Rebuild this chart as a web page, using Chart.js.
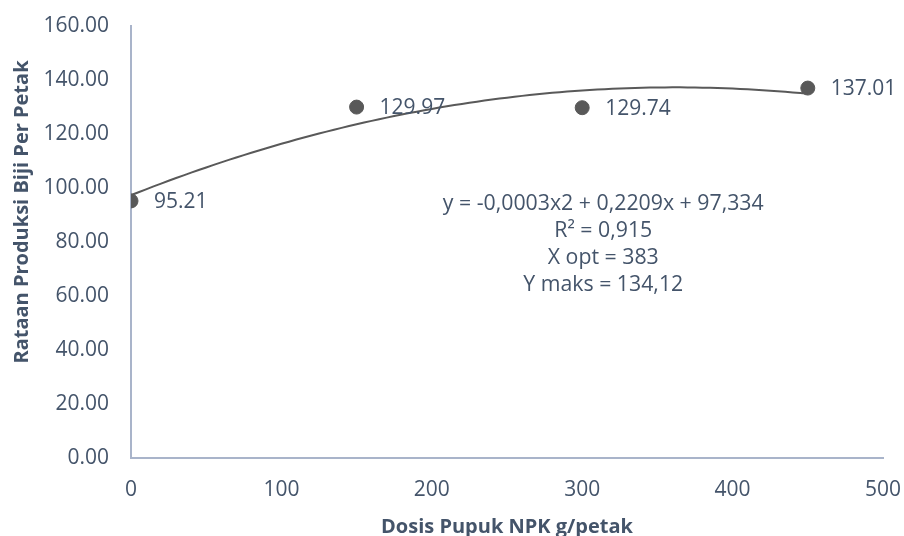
<!DOCTYPE html>
<html>
<head>
<meta charset="utf-8">
<style>
  html, body { margin: 0; padding: 0; background: #fff; }
  #wrap { width: 904px; height: 536px; }
</style>
<script src="https://cdn.jsdelivr.net/npm/chart.js@4/dist/chart.umd.min.js"></script>
</head>
<body>
<div id="wrap"><canvas id="c" width="904" height="536"></canvas></div>
<script>
// NPK dose (g/petak) and mean seed yield per plot
const doses = [0, 150, 300, 450];
const yields = [95.21, 129.97, 129.74, 137.01];
const yTicks = [0, 20, 40, 60, 80, 100, 120, 140, 160];
const xTicks = [0, 100, 200, 300, 400, 500];
const equationLines = [
  'y = -0,0003x2 + 0,2209x + 97,334',
  'R\u00B2 = 0,915',
  'X opt = 383',
  'Y maks = 134,12'
];
const xTitle = 'Dosis Pupuk NPK g/petak';
const yTitle = 'Rataan Produksi Biji Per Petak';

const TEXT = '#44546A';
const AXIS = '#A9B4CA';
const MARK = '#595959';
const FONT = '"Open Sans", sans-serif';

// Least-squares quadratic fit of the yield data (polynomial trendline)
function quadFit(xs, ys) {
  let s = [0, 0, 0, 0, 0], t = [0, 0, 0];
  xs.forEach((x, i) => {
    for (let k = 0; k <= 4; k++) s[k] += Math.pow(x, k);
    for (let k = 0; k <= 2; k++) t[k] += Math.pow(x, k) * ys[i];
  });
  const M = [[s[0], s[1], s[2], t[0]], [s[1], s[2], s[3], t[1]], [s[2], s[3], s[4], t[2]]];
  for (let i = 0; i < 3; i++) {
    for (let j = i + 1; j < 3; j++) {
      const f = M[j][i] / M[i][i];
      for (let k = i; k < 4; k++) M[j][k] -= f * M[i][k];
    }
  }
  const c = [0, 0, 0];
  for (let i = 2; i >= 0; i--) {
    let v = M[i][3];
    for (let k = i + 1; k < 3; k++) v -= M[i][k] * c[k];
    c[i] = v / M[i][i];
  }
  return c;
}
const coef = quadFit(doses, yields);
const trend = [];
for (let x = doses[0]; x <= doses[doses.length - 1]; x += 5) {
  trend.push({ x: x, y: coef[0] + coef[1] * x + coef[2] * x * x });
}

// Value labels, trendline equation and axis titles
const annotations = {
  id: 'annotations',
  afterDatasetsDraw(chart) {
    const ctx = chart.ctx;
    const meta = chart.getDatasetMeta(1);
    const sx = chart.scales.x, sy = chart.scales.y;
    ctx.save();
    ctx.font = '21px ' + FONT;
    ctx.fillStyle = TEXT;
    ctx.textAlign = 'left';
    ctx.textBaseline = 'middle';
    meta.data.forEach((el, i) => {
      ctx.fillText(yields[i].toFixed(2), el.x + 23, el.y + 1);
    });
    ctx.textAlign = 'center';
    ctx.font = '21.3px ' + FONT;
    const cx = sx.getPixelForValue(314);
    const y0 = sy.getPixelForValue(94.2);
    equationLines.forEach((ln, i) => {
      ctx.fillText(ln, cx, y0 + i * 27);
    });

    ctx.font = 'bold 20px ' + FONT;
    ctx.textBaseline = 'alphabetic';
    ctx.fillText(xTitle, (chart.chartArea.left + chart.chartArea.right) / 2, 533);

    ctx.font = 'bold 20px ' + FONT;
    ctx.translate(28, 212);
    ctx.rotate(-Math.PI / 2);
    ctx.fillText(yTitle, 0, 0);
    ctx.restore();
  }
};

new Chart(document.getElementById('c'), {
  type: 'scatter',
  data: {
    datasets: [
      {
        type: 'line',
        data: trend,
        borderColor: MARK,
        borderWidth: 2,
        pointRadius: 0,
        fill: false,
        tension: 0
      },
      {
        data: doses.map((x, i) => ({ x: x, y: yields[i] })),
        backgroundColor: MARK,
        borderColor: MARK,
        pointRadius: 7,
        pointHoverRadius: 7
      }
    ]
  },
  options: {
    responsive: false,
    animation: false,
    layout: { padding: { top: 26, right: 21, left: 0, bottom: 0 } },
    plugins: { legend: { display: false }, tooltip: { enabled: false } },
    scales: {
      x: {
        type: 'linear',
        min: 0, max: 500,
        afterBuildTicks: (s) => { s.ticks = xTicks.map(v => ({ value: v })); },
        afterFit: (s) => { s.height = 78; s.paddingLeft = 0; s.paddingRight = 0; },
        grid: { display: false, drawTicks: false },
        border: { color: AXIS, width: 2 },
        ticks: { color: TEXT, font: { family: FONT, size: 21 }, padding: 19 }
      },
      y: {
        min: 0, max: 160,
        afterBuildTicks: (s) => { s.ticks = yTicks.map(v => ({ value: v })); },
        afterFit: (s) => { s.width = 131; s.paddingTop = 0; s.paddingBottom = 0; },
        grid: { display: false, drawTicks: false },
        border: { color: AXIS, width: 2 },
        ticks: { color: TEXT, font: { family: FONT, size: 21 }, padding: 22,
                 callback: (v) => Number(v).toFixed(2) }
      }
    }
  },
  plugins: [annotations]
});
</script>
</body>
</html>
